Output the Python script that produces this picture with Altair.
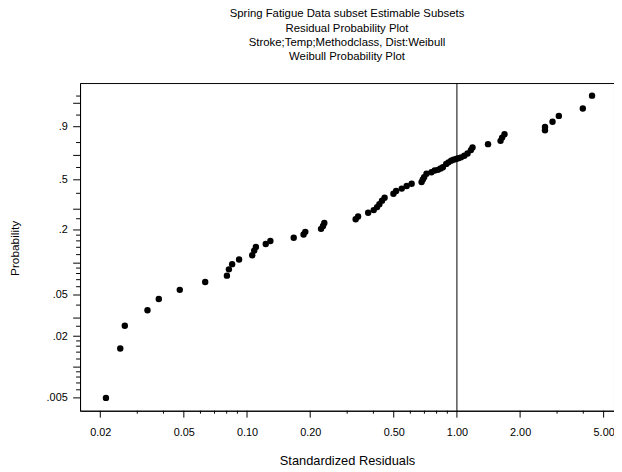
import altair as alt
import numpy as np
import pandas as pd

# Standardized residuals (x) and plotting-position probabilities (y)
resid = [0.02128, 0.02489, 0.02617, 0.03356, 0.03799, 0.04783, 0.06322, 0.08021, 0.08197, 0.08495,
         0.09167, 0.1059, 0.1082, 0.1102, 0.1228, 0.1292, 0.1669, 0.1860, 0.1895, 0.2253,
         0.2302, 0.2335, 0.3293, 0.3382, 0.3777, 0.4014, 0.4165, 0.4270, 0.4396, 0.4522,
         0.4984, 0.5132, 0.5460, 0.5765, 0.6086, 0.6784, 0.6880, 0.6977, 0.7161, 0.7561,
         0.7834, 0.8120, 0.8361, 0.8570, 0.8892, 0.9117, 0.9386, 0.9625, 0.9911, 1.0160,
         1.0462, 1.0842, 1.1235, 1.1657, 1.1863, 1.4065, 1.6138, 1.6423, 1.6851, 2.628,
         2.628, 2.854, 3.059, 3.979, 4.402]
prob = [0.0050, 0.0152, 0.0253, 0.0357, 0.0458, 0.0560, 0.0666, 0.0764, 0.0875, 0.0979,
        0.1081, 0.1185, 0.1306, 0.1410, 0.1500, 0.1595, 0.1706, 0.1825, 0.1926, 0.2045,
        0.2170, 0.2302, 0.2473, 0.2612, 0.2805, 0.2952, 0.3122, 0.3298, 0.3512, 0.3704,
        0.3972, 0.4164, 0.4336, 0.4525, 0.4701, 0.4823, 0.5033, 0.5212, 0.5482, 0.5612,
        0.5750, 0.5804, 0.5910, 0.6016, 0.6295, 0.6428, 0.6568, 0.6648, 0.6707, 0.6773,
        0.6838, 0.6976, 0.7160, 0.7428, 0.7628, 0.7883, 0.8121, 0.8348, 0.8567, 0.8804,
        0.8984, 0.9237, 0.9472, 0.9690, 0.9904]

x_major = [0.02, 0.05, 0.10, 0.20, 0.50, 1.00, 2.00, 5.00]
x_minor = [0.03, 0.04, 0.06, 0.07, 0.08, 0.09, 0.3, 0.4, 0.6, 0.7, 0.8, 0.9, 3.0, 4.0]
y_major = [0.005, 0.01, 0.02, 0.03, 0.05, 0.1, 0.2, 0.3, 0.5, 0.7, 0.9, 0.98]
y_minor = [0.006, 0.007, 0.008, 0.009, 0.012, 0.014, 0.016, 0.018, 0.025, 0.04,
           0.06, 0.07, 0.08, 0.09, 0.12, 0.14, 0.16, 0.18, 0.25, 0.4, 0.6, 0.8, 0.95, 0.99]
ref_line = [1.0]

titles = ["Spring Fatigue Data subset Estimable Subsets",
          "Residual Probability Plot",
          "Stroke;Temp;Methodclass, Dist:Weibull",
          "Weibull Probability Plot"]


def weib(p):
    p = np.asarray(p, dtype=float)
    return [round(float(v), 6) for v in np.log(-np.log(1.0 - p))]


df = pd.DataFrame({"resid": resid, "prob": prob})
df["w"] = weib(df["prob"])
ref_df = pd.DataFrame({"x": ref_line})
xmaj_df = pd.DataFrame({"resid": x_major})
xmin_df = pd.DataFrame({"resid": x_minor})
ymaj_df = pd.DataFrame({"w": weib(y_major)})
ymin_df = pd.DataFrame({"w": weib(y_minor)})

W, H = 541, 332
FONT = "Liberation Sans"
xscale = alt.Scale(type="log", domain=[0.016015, 5.602], nice=False)
yscale = alt.Scale(domain=[-5.586, 1.821], nice=False, zero=False)

y_label_expr = "replace(format(1-exp(-exp(datum.value)), '.3~f'), '0.', '.')"

points = alt.Chart(df).mark_circle(size=42, color="black", opacity=1).encode(
    x=alt.X("resid:Q", scale=xscale,
            axis=alt.Axis(values=x_major, format=".2f", ticks=False,
                          domain=True, domainColor="black", domainWidth=1,
                          labelPadding=16, labelFontSize=11, labelFont=FONT, labelColor="black",
                          labelOverlap=False, labelFlush=False, grid=False,
                          title="Standardized Residuals", titleFontSize=13, titleFont=FONT,
                          titleFontWeight="normal", titleColor="black", titleY=50,
                          titleBaseline="middle")),
    y=alt.Y("w:Q", scale=yscale,
            axis=alt.Axis(values=weib(y_major), labelExpr=y_label_expr, ticks=False,
                          domain=True, domainColor="black", domainWidth=1,
                          labelPadding=13, labelFontSize=11, labelFont=FONT,
                          labelColor="black", labelOverlap=False, labelFlush=False, grid=False,
                          title="Probability", titleFontSize=12, titleFont=FONT,
                          titleFontWeight="normal", titleColor="black", titleX=-66, titleY=167,
                          titleAngle=-90, titleBaseline="middle", titleAlign="center")),
)

rule = alt.Chart(ref_df).mark_rule(color="black", strokeWidth=1).encode(
    x=alt.X("x:Q", scale=xscale)
)

xmaj = alt.Chart(xmaj_df).mark_rule(color="black", strokeWidth=1).encode(
    x=alt.X("resid:Q", scale=xscale), y=alt.value(H), y2=alt.value(H + 7))
xmin = alt.Chart(xmin_df).mark_rule(color="black", strokeWidth=1).encode(
    x=alt.X("resid:Q", scale=xscale), y=alt.value(H), y2=alt.value(H + 3))
ymaj = alt.Chart(ymaj_df).mark_rule(color="black", strokeWidth=1).encode(
    y=alt.Y("w:Q", scale=yscale), x=alt.value(-7), x2=alt.value(0))
ymin = alt.Chart(ymin_df).mark_rule(color="black", strokeWidth=1).encode(
    y=alt.Y("w:Q", scale=yscale), x=alt.value(-4), x2=alt.value(0))

chart = alt.layer(points, rule, xmaj, xmin, ymaj, ymin).properties(
    width=W, height=H,
    autosize=alt.AutoSizeParams(type="none"),
    padding={"left": 73, "top": 73, "right": 0, "bottom": 56},
    title=alt.TitleParams(text=titles, fontSize=11.5, font=FONT, fontWeight="normal",
                          color="black", anchor="middle", frame="group", lineHeight=14.5,
                          offset=20),
).configure_view(stroke="black", strokeWidth=1)

chart.save("out.html", embed_options={"renderer": "svg", "actions": False})
